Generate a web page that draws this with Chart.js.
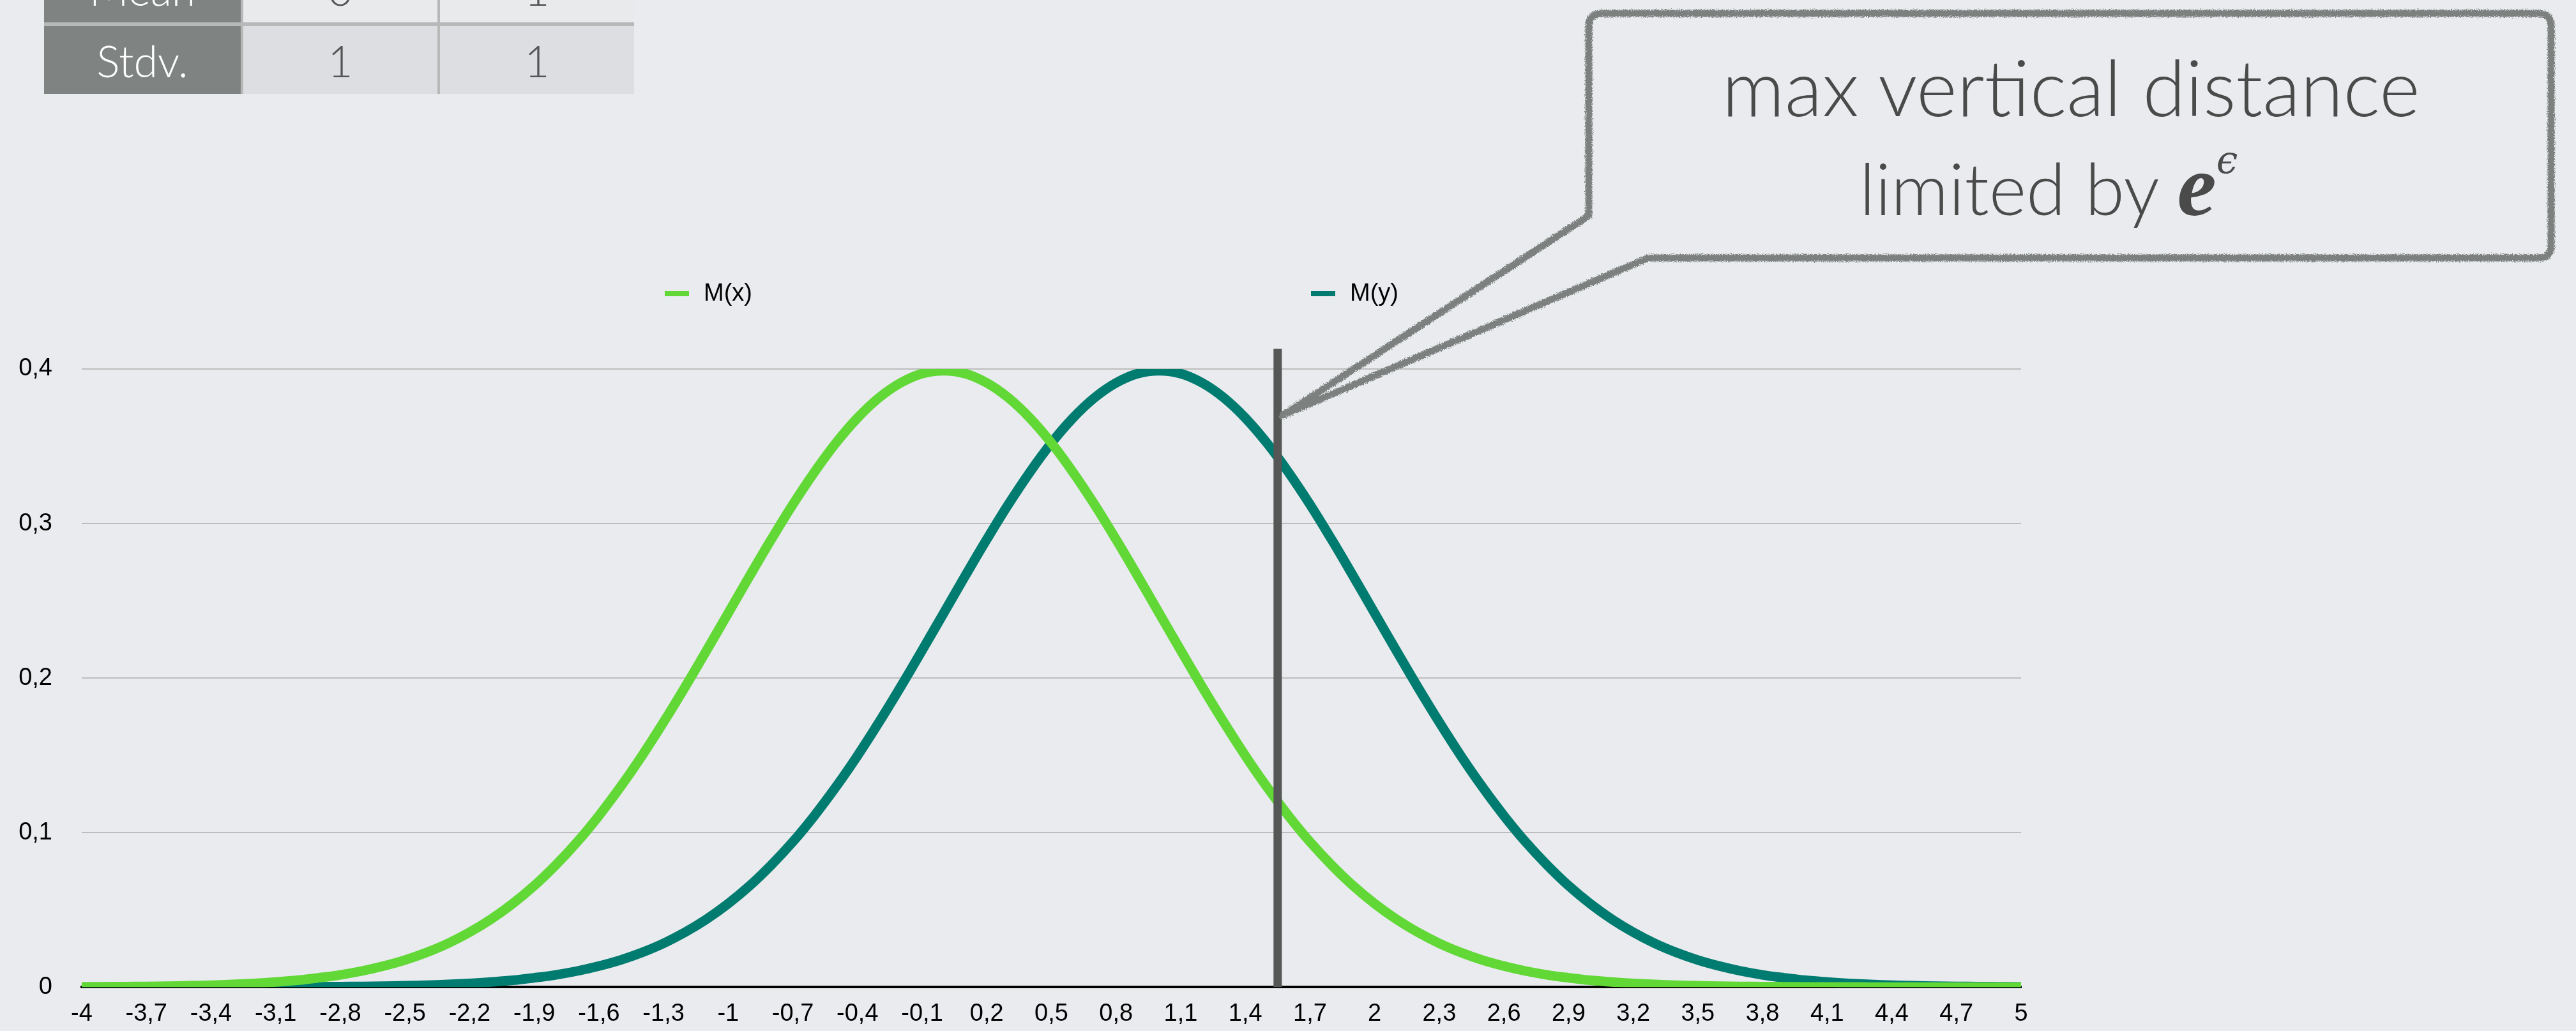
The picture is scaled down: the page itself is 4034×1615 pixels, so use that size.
<!DOCTYPE html>
<html>
<head>
<meta charset="utf-8">
<script src="https://cdn.jsdelivr.net/npm/chart.js@4/dist/chart.umd.min.js"></script>
<style>
  html, body { margin: 0; padding: 0; }
  body { width: 4034px; height: 1615px; background: #e9ebee; position: relative; overflow: hidden; }
  #chart { position: absolute; left: 0; top: 0; }
  #stats {
    position: absolute; left: 69px; top: -71px; width: 924px; height: 218px;
    display: grid; grid-template-columns: 308px 304px 304px; grid-template-rows: 106px 106px;
    column-gap: 4px; row-gap: 6px; background: #b7b8b8;
    font-family: Lato, "Open Sans", sans-serif; font-weight: 300; font-size: 68px;
  }
  #stats div { display: flex; align-items: center; justify-content: center; color: #555; }
  #stats .head { background: #7f8482; color: #fff; }
  #stats .odd { background: #e8eaec; }
  #stats .even { background: #dcdee1; }
  #callout { position: absolute; left: 0; top: 0; }
</style>
</head>
<body>
<div id="stats">
  <div class="head">Mean</div><div class="odd">0</div><div class="odd">1</div>
  <div class="head">Stdv.</div><div class="even">1</div><div class="even">1</div>
</div>
<canvas id="chart" width="4034" height="1615"></canvas>
<svg id="callout" width="4034" height="1615" viewBox="0 0 4034 1615">
  <defs>
    <filter id="rough" filterUnits="userSpaceOnUse" x="0" y="0" width="4034" height="1615">
      <feTurbulence type="fractalNoise" baseFrequency="0.7" numOctaves="2" seed="3" result="noise"/>
      <feDisplacementMap in="SourceGraphic" in2="noise" scale="8" xChannelSelector="R" yChannelSelector="G"/>
    </filter>
  </defs>
  <path d="M 2508 21 L 3975 21 Q 3995 21 3995 41 L 3995 385 Q 3995 404 3975 404 L 2581 404 L 2008 651 L 2488 338 L 2488 41 Q 2488 21 2508 21 Z"
        fill="none" stroke="#7b807e" stroke-width="11" stroke-linejoin="round" filter="url(#rough)"/>
  <text x="3243" y="182" text-anchor="middle" font-family="Lato, 'Open Sans', sans-serif" font-weight="300" font-size="122" fill="#4a4a4a">max vertical distance</text>
  <text x="3208" y="337" text-anchor="middle" font-family="Lato, 'Open Sans', sans-serif" font-weight="300" font-size="112" fill="#4a4a4a">limited by <tspan font-family="'Liberation Serif', serif" font-style="italic" font-weight="bold" font-size="138">e</tspan><tspan font-family="'DejaVu Serif', serif" font-style="italic" font-size="60" dy="-66">ϵ</tspan></text>
</svg>
<script>
// x values (0.1 step), labels shown every 0.3
const xs = [
  -4, -3.9, -3.8, -3.7, -3.6, -3.5, -3.4, -3.3, -3.2, -3.1,
  -3, -2.9, -2.8, -2.7, -2.6, -2.5, -2.4, -2.3, -2.2, -2.1,
  -2, -1.9, -1.8, -1.7, -1.6, -1.5, -1.4, -1.3, -1.2, -1.1,
  -1, -0.9, -0.8, -0.7, -0.6, -0.5, -0.4, -0.3, -0.2, -0.1,
  0, 0.1, 0.2, 0.3, 0.4, 0.5, 0.6, 0.7, 0.8, 0.9,
  1, 1.1, 1.2, 1.3, 1.4, 1.5, 1.6, 1.7, 1.8, 1.9,
  2, 2.1, 2.2, 2.3, 2.4, 2.5, 2.6, 2.7, 2.8, 2.9,
  3, 3.1, 3.2, 3.3, 3.4, 3.5, 3.6, 3.7, 3.8, 3.9,
  4, 4.1, 4.2, 4.3, 4.4, 4.5, 4.6, 4.7, 4.8, 4.9,
  5
];

const mxValues = [
  0.0001, 0.0002, 0.0003, 0.0004, 0.0006, 0.0009, 0.0012, 0.0017, 0.0024, 0.0033,
  0.0044, 0.0060, 0.0079, 0.0104, 0.0136, 0.0175, 0.0224, 0.0283, 0.0355, 0.0440,
  0.0540, 0.0656, 0.0790, 0.0940, 0.1109, 0.1295, 0.1497, 0.1714, 0.1942, 0.2179,
  0.2420, 0.2661, 0.2897, 0.3123, 0.3332, 0.3521, 0.3683, 0.3814, 0.3910, 0.3970,
  0.3989,
  0.3970, 0.3910, 0.3814, 0.3683, 0.3521, 0.3332, 0.3123, 0.2897, 0.2661, 0.2420,
  0.2179, 0.1942, 0.1714, 0.1497, 0.1295, 0.1109, 0.0940, 0.0790, 0.0656, 0.0540,
  0.0440, 0.0355, 0.0283, 0.0224, 0.0175, 0.0136, 0.0104, 0.0079, 0.0060, 0.0044,
  0.0033, 0.0024, 0.0017, 0.0012, 0.0009, 0.0006, 0.0004, 0.0003, 0.0002, 0.0001,
  0.0001, 0.0001, 0, 0, 0, 0, 0, 0, 0, 0
];

const myValues = [
  0, 0, 0, 0, 0, 0, 0, 0, 0.0001, 0.0001,
  0.0001, 0.0002, 0.0003, 0.0004, 0.0006, 0.0009, 0.0012, 0.0017, 0.0024, 0.0033,
  0.0044, 0.0060, 0.0079, 0.0104, 0.0136, 0.0175, 0.0224, 0.0283, 0.0355, 0.0440,
  0.0540, 0.0656, 0.0790, 0.0940, 0.1109, 0.1295, 0.1497, 0.1714, 0.1942, 0.2179,
  0.2420, 0.2661, 0.2897, 0.3123, 0.3332, 0.3521, 0.3683, 0.3814, 0.3910, 0.3970,
  0.3989,
  0.3970, 0.3910, 0.3814, 0.3683, 0.3521, 0.3332, 0.3123, 0.2897, 0.2661, 0.2420,
  0.2179, 0.1942, 0.1714, 0.1497, 0.1295, 0.1109, 0.0940, 0.0790, 0.0656, 0.0540,
  0.0440, 0.0355, 0.0283, 0.0224, 0.0175, 0.0136, 0.0104, 0.0079, 0.0060, 0.0044,
  0.0033, 0.0024, 0.0017, 0.0012, 0.0009, 0.0006, 0.0004, 0.0003, 0.0002, 0.0001
];

const seriesNames = ['M(x)', 'M(y)'];
const seriesColors = ['#62d837', '#007b70'];

// where the vertical marker sits, and how high it goes
const markerX = 1.55;
const markerTop = 0.413;

const fmt = v => String(Math.round(v * 10) / 10).replace('.', ',');
const tickFont = { family: "'Liberation Sans', Arial, sans-serif", size: 38 };

// draw the pencil-like marker line
const markerPlugin = {
  id: 'marker',
  afterDatasetsDraw(chart) {
    const { ctx, scales: { x, y } } = chart;
    const px = x.getPixelForValue(markerX);
    ctx.save();
    ctx.strokeStyle = '#545756';
    ctx.lineWidth = 13;
    ctx.beginPath();
    ctx.moveTo(px, y.getPixelForValue(markerTop));
    ctx.lineTo(px, y.getPixelForValue(0));
    ctx.stroke();
    ctx.restore();
  }
};

// legend items are spread far apart in the original, so draw them by hand
const legendSpots = [1041, 2053];
const spreadLegend = {
  id: 'spreadLegend',
  afterDraw(chart) {
    const ctx = chart.ctx;
    ctx.save();
    ctx.font = "38px 'Liberation Sans', Arial, sans-serif";
    ctx.textBaseline = 'middle';
    chart.data.datasets.forEach((ds, i) => {
      const x0 = legendSpots[i];
      ctx.fillStyle = ds.borderColor;
      ctx.fillRect(x0, 456, 38, 8);
      ctx.fillStyle = '#000';
      ctx.fillText(ds.label, x0 + 61, 461);
    });
    ctx.restore();
  }
};

const ctx = document.getElementById('chart').getContext('2d');
new Chart(ctx, {
  type: 'line',
  data: {
    datasets: [
      {
        label: seriesNames[0],
        data: xs.map((x, i) => ({ x, y: mxValues[i] })),
        borderColor: seriesColors[0],
        borderWidth: 15,
        borderCapStyle: 'butt',
        pointRadius: 0,
        tension: 0.4
      },
      {
        label: seriesNames[1],
        data: xs.map((x, i) => ({ x, y: myValues[i] })),
        borderColor: seriesColors[1],
        borderWidth: 15,
        borderCapStyle: 'butt',
        pointRadius: 0,
        tension: 0.4
      }
    ]
  },
  options: {
    responsive: false,
    animation: false,
    devicePixelRatio: 1,
    layout: { padding: { top: 578, right: 869, bottom: 0, left: 0 } },
    plugins: {
      legend: { display: false },
      tooltip: { enabled: false }
    },
    scales: {
      x: {
        type: 'linear',
        min: -4,
        max: 5,
        ticks: {
          stepSize: 0.3,
          autoSkip: false,
          maxRotation: 0,
          padding: 20,
          color: '#000',
          font: tickFont,
          callback: v => fmt(v)
        },
        grid: { display: false, drawTicks: false },
        border: { color: '#000', width: 4 },
        afterFit: s => { s.height = 68; }
      },
      y: {
        min: 0,
        max: 0.4,
        ticks: {
          stepSize: 0.1,
          padding: 46,
          color: '#000',
          font: tickFont,
          callback: v => fmt(v)
        },
        grid: { color: '#bdbdbd', lineWidth: 2, drawTicks: false },
        border: { display: false },
        afterFit: s => { s.width = 128; }
      }
    }
  },
  plugins: [markerPlugin, spreadLegend]
});
</script>
</body>
</html>
